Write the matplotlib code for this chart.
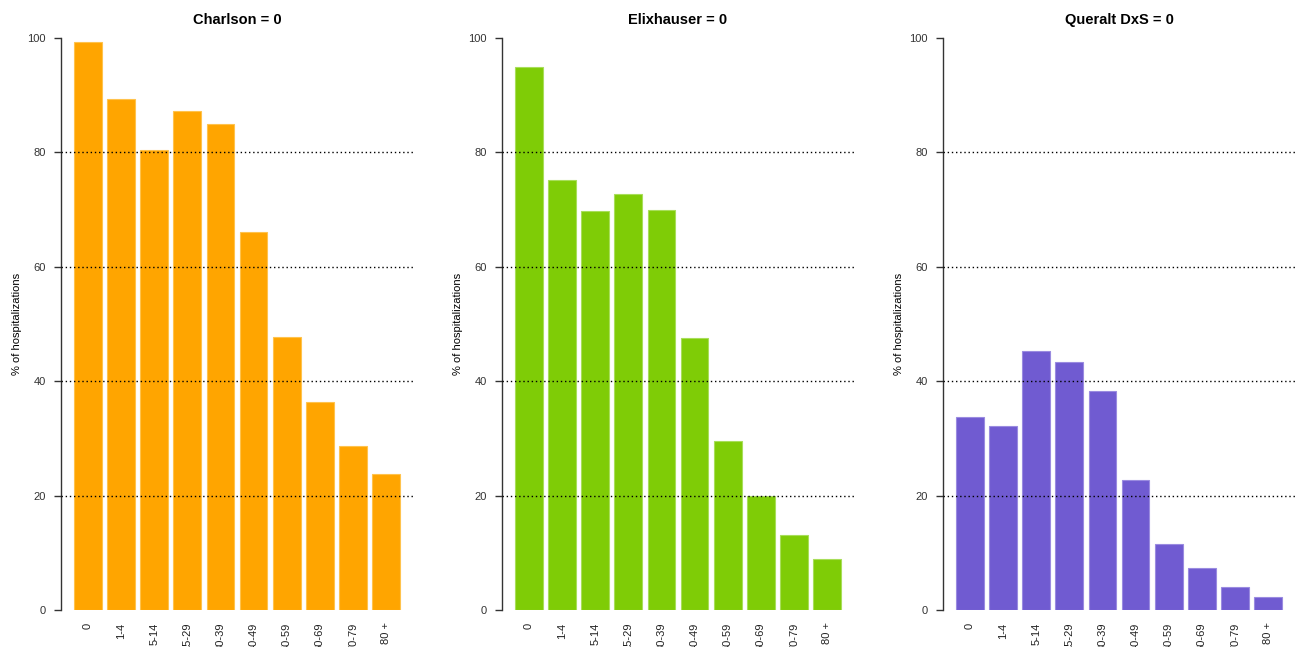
import matplotlib.pyplot as plt
import numpy as np

# age groups and % of hospitalizations with index = 0
age_groups = ['0', '1-4', '5-14', '15-29', '30-39', '40-49', '50-59', '60-69', '70-79', '80 +']
charlson = [99.3, 89.3, 80.4, 87.3, 85.0, 66.0, 47.7, 36.3, 28.7, 23.8]
elixhauser = [95.0, 75.2, 69.7, 72.8, 70.0, 47.5, 29.6, 20.0, 13.1, 8.9]
queralt = [33.7, 32.2, 45.2, 43.3, 38.3, 22.7, 11.5, 7.3, 4.0, 2.3]

titles = ['Charlson = 0', 'Elixhauser = 0', 'Queralt DxS = 0']
colors = ['#FFA500', '#7FCC06', '#705BD1']
edges = ['#FFC34D', '#A8DE5A', '#9A8BE0']
series = [charlson, elixhauser, queralt]

plt.rcParams['font.family'] = ['Liberation Sans', 'DejaVu Sans']

W, H = 1297, 647
fig = plt.figure(figsize=(W / 100, H / 100), dpi=100)

# R barplot style positions: width 1, space 0.2
x = 0.7 + 1.2 * np.arange(len(age_groups))

for i, (vals, title, col, ec) in enumerate(zip(series, titles, colors, edges)):
    left = 61 + i * 441
    ax = fig.add_axes([left / W, (H - 610) / H, 352 / W, 572 / H])
    ax.bar(x, vals, width=1.0, color=col, edgecolor=ec, linewidth=0.8, zorder=2)
    for g in [20, 40, 60, 80]:
        ax.axhline(g, color='black', linestyle=(0, (1, 2)), linewidth=1.0, zorder=3)
    ax.set_xlim(-0.272, 12.472)
    ax.set_ylim(0, 100)
    for s in ['top', 'right', 'bottom']:
        ax.spines[s].set_visible(False)
    ax.spines['left'].set_color('#333333')
    ax.spines['left'].set_linewidth(1.0)
    ax.set_yticks([0, 20, 40, 60, 80, 100])
    ax.tick_params(axis='y', length=5, width=1, pad=6, labelsize=8, color='#333333', labelcolor='#333333')
    ax.set_xticks(x)
    ax.set_xticklabels(age_groups, rotation=90, fontsize=8, color='#222222')
    ax.tick_params(axis='x', length=0, pad=9)
    ax.set_ylabel('% of hospitalizations', fontsize=8, labelpad=4)
    ax.set_title(title, fontsize=10.5, fontweight='bold', pad=10)

fig.savefig('out.png', dpi=100)
